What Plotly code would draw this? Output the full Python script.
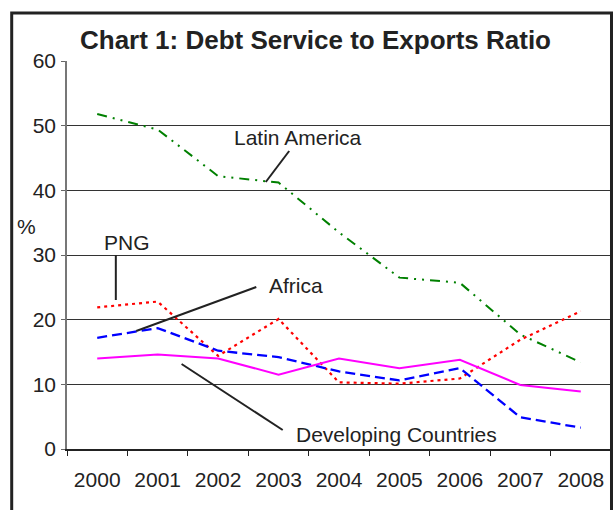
import plotly.graph_objects as go

# Debt service as a share of exports (%), 2000-2008
years = ["2000", "2001", "2002", "2003", "2004", "2005", "2006", "2007", "2008"]
latin_america = [51.8, 49.4, 42.2, 41.2, 33.5, 26.5, 25.7, 17.7, 13.4]
png = [21.9, 22.8, 14.4, 20.1, 10.3, 10.1, 10.9, 16.9, 21.3]
africa = [17.2, 18.7, 15.2, 14.2, 12.0, 10.6, 12.5, 4.9, 3.3]
developing = [14.0, 14.6, 14.0, 11.5, 14.0, 12.5, 13.8, 9.9, 8.9]
y_ticks = [0, 10, 20, 30, 40, 50, 60]

W, H = 616, 510
L, T, PW, PH = 67, 61, 546, 388
FONT = "Liberation Sans, Arial, sans-serif"
TXT = "#222222"


def px(x):
    return (x - L) / PW


def py(y):
    return (T + PH - y) / PH


fig = go.Figure()
fig.add_trace(go.Scatter(x=years, y=latin_america, mode="lines", name="Latin America",
                         line=dict(color="#008000", width=2, dash="10px,6px,2px,6px,2px,6px")))
fig.add_trace(go.Scatter(x=years, y=png, mode="lines", name="PNG",
                         line=dict(color="#ff0000", width=2.2, dash="3px,4px")))
fig.add_trace(go.Scatter(x=years, y=africa, mode="lines", name="Africa",
                         line=dict(color="#0000ff", width=2.3, dash="10px,5px")))
fig.add_trace(go.Scatter(x=years, y=developing, mode="lines", name="Developing Countries",
                         line=dict(color="#ff00ff", width=2)))

# leader lines from labels to series
leaders = [
    ((290, 151), (266.5, 182)),
    ((116, 255), (116, 300)),
    ((257, 287), (136.5, 331)),
    ((182, 364), (283.5, 430)),
]
shapes = []
for (x0, y0), (x1, y1) in leaders:
    shapes.append(dict(type="line", xref="paper", yref="paper",
                       x0=px(x0), y0=py(y0), x1=px(x1), y1=py(y1),
                       line=dict(color=TXT, width=2)))
# outer frame
shapes.append(dict(type="rect", xref="paper", yref="paper",
                   x0=px(11.5), y0=py(560), x1=px(613.5), y1=py(13),
                   line=dict(color=TXT, width=3), layer="above"))

labels = [
    ("Latin America", 298.5, 137.5),
    ("PNG", 127.5, 242.5),
    ("Africa", 296.5, 285.5),
    ("Developing Countries", 397.5, 434),
    ("%", 26, 226),
]
annotations = []
for text, x, y in labels:
    annotations.append(dict(text=text, x=px(x), y=py(y), xref="paper", yref="paper",
                            showarrow=False, xanchor="center", yanchor="middle",
                            font=dict(family=FONT, size=21, color=TXT)))
annotations.append(dict(text="<b>Chart 1: Debt Service to Exports Ratio</b>",
                        x=px(316.5), y=py(40), xref="paper", yref="paper",
                        showarrow=False, xanchor="center", yanchor="middle",
                        font=dict(family=FONT, size=26, color=TXT)))

fig.update_layout(
    width=W, height=H,
    margin=dict(l=L, r=W - L - PW, t=T, b=H - T - PH, pad=0),
    paper_bgcolor="white", plot_bgcolor="white",
    showlegend=False,
    font=dict(family=FONT, size=21, color=TXT),
    shapes=shapes, annotations=annotations,
    xaxis=dict(type="category", categoryorder="array", categoryarray=years,
               tickson="boundaries", ticks="outside", ticklen=5, tickcolor=TXT,
               showline=True, linecolor=TXT, linewidth=1.5, showgrid=False,
               ticklabelstandoff=11, tickfont=dict(size=21, color=TXT),
               range=[-0.5, len(years) - 0.5]),
    yaxis=dict(range=[0, 60], tickvals=y_ticks, ticks="outside", ticklen=4,
               tickcolor="#666666", showline=True, linecolor="#777777", linewidth=1.5,
               mirror=True, showgrid=True, gridcolor="#333333", gridwidth=1,
               zeroline=False, ticklabelstandoff=1, tickfont=dict(size=21, color=TXT)),
)

fig.write_html("out.html")
